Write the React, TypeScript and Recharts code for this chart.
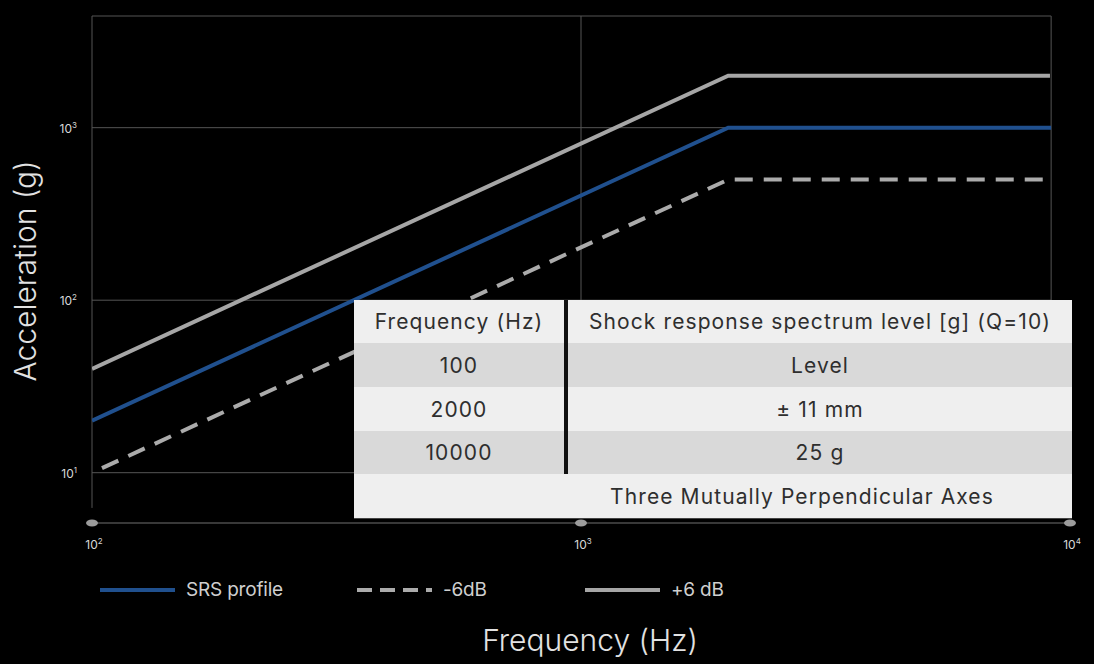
import React from 'react'
import { LineChart, Line, XAxis, YAxis, ReferenceLine, ReferenceDot, Legend } from 'recharts'

// axis setup (log-log)
const freqTicks = [100, 1000, 10000]
const accelTicks = [10, 100, 1000]
const freqDomain = [100, 10000]
const accelDomain = [5.11, 4440]
const frameRight = 9150
const frameBottom = 6.25

// SRS curves, frequency (Hz) vs acceleration (g)
const srsProfile = [
  { f: 100, g: 20 },
  { f: 2000, g: 1000 },
  { f: 9150, g: 1000 },
]
const minus6dB = [
  { f: 100, g: 10 },
  { f: 2000, g: 500 },
  { f: 9150, g: 500 },
]
const plus6dB = [
  { f: 100, g: 40 },
  { f: 2000, g: 2000 },
  { f: 9100, g: 2000 },
]

// table overlay
const tableHeader = ['Frequency (Hz)', 'Shock response spectrum level [g] (Q=10)']
const tableFreqs = ['100', '2000', '10000']
const tableLevels = ['Level', '± 11 mm', '25 g']
const tableFooter = 'Three Mutually Perpendicular Axes'

const series = [
  { key: 'srs', name: 'SRS profile', data: srsProfile, color: '#20508e', dash: undefined },
  { key: 'm6', name: '-6dB', data: minus6dB, color: '#ababab', dash: '18 11' },
  { key: 'p6', name: '+6 dB', data: plus6dB, color: '#a6a6a6', dash: undefined },
]

const FONT = 'Inter, "Noto Sans", sans-serif'
const GRID = '#555555'

function FreqTick(props: any) {
  const { x, y, payload } = props
  const e = Math.round(Math.log10(payload.value))
  return (
    <text x={x + 2} y={y + 26} textAnchor="middle" fill="#d8d8d8" fontSize={12} fontFamily={FONT}>
      10<tspan fontSize={8} dy={-5}>{e}</tspan>
    </text>
  )
}

function AccelTick(props: any) {
  const { x, y, payload } = props
  const e = Math.round(Math.log10(payload.value))
  return (
    <text x={x - 15} y={y + 5} textAnchor="end" fill="#d8d8d8" fontSize={12} fontFamily={FONT}>
      10<tspan fontSize={8} dy={-5}>{e}</tspan>
    </text>
  )
}

const legendLefts = [100, 357, 585]

function LegendContent() {
  return (
    <div style={{ position: 'relative', height: 24, fontFamily: FONT }}>
      {series.map((s, i) => (
        <div
          key={s.key}
          style={{ position: 'absolute', left: legendLefts[i], top: 0, display: 'flex', alignItems: 'center' }}
        >
          <svg width={75} height={8}>
            <line x1={0} y1={4} x2={75} y2={4} stroke={s.color} strokeWidth={4} strokeDasharray={s.dash ? '15 8' : undefined} />
          </svg>
          <span style={{ marginLeft: 11, color: '#cfcfcf', fontSize: 19, letterSpacing: -0.2 }}>{s.name}</span>
        </div>
      ))}
    </div>
  )
}

const rowBg = ['#efefef', '#d9d9d9', '#efefef', '#d9d9d9', '#efefef']
const rowH = [43, 44, 44, 43, 45]

function SpecTable() {
  const rows = [tableHeader, ...tableFreqs.map((f, i) => [f, tableLevels[i]])]
  return (
    <div
      style={{
        position: 'absolute',
        left: 354,
        top: 300,
        width: 718,
        fontFamily: FONT,
        color: '#2e2e2e',
        fontSize: 21,
        letterSpacing: 1.1,
      }}
    >
      {rows.map((r, i) => (
        <div key={i} style={{ display: 'flex', height: rowH[i], background: rowBg[i] }}>
          <div style={{ width: 210, display: 'flex', alignItems: 'center', justifyContent: 'center' }}>{r[0]}</div>
          <div style={{ width: 4, background: '#111' }} />
          <div style={{ flex: 1, display: 'flex', alignItems: 'center', justifyContent: 'center' }}>{r[1]}</div>
        </div>
      ))}
      <div
        style={{
          height: rowH[4],
          background: rowBg[4],
          display: 'flex',
          alignItems: 'center',
          justifyContent: 'center',
          paddingLeft: 178,
          borderBottom: '1px solid #444',
          boxSizing: 'border-box',
        }}
      >
        {tableFooter}
      </div>
    </div>
  )
}

export default function App() {
  return (
    <div style={{ position: 'absolute', left: 0, top: 0, width: 1094, height: 664, background: '#000', overflow: 'hidden' }}>
      <LineChart width={1094} height={664} margin={{ top: 16, right: 24, left: 0, bottom: 0 }}>
        <XAxis
          dataKey="f"
          type="number"
          scale="log"
          domain={freqDomain}
          ticks={freqTicks}
          allowDataOverflow
          height={141}
          axisLine={{ stroke: '#707070', strokeWidth: 1.2 }}
          tickLine={false}
          tickSize={0}
          tickMargin={0}
          tick={<FreqTick />}
        />
        <YAxis
          dataKey="g"
          type="number"
          scale="log"
          domain={accelDomain}
          ticks={accelTicks}
          allowDataOverflow
          width={92}
          axisLine={false}
          tickLine={false}
          tickSize={0}
          tickMargin={0}
          tick={<AccelTick />}
        />
        {/* plot frame */}
        <ReferenceLine segment={[{ x: 100, y: accelDomain[1] }, { x: frameRight, y: accelDomain[1] }]} stroke={GRID} />
        <ReferenceLine segment={[{ x: 100, y: frameBottom }, { x: 100, y: accelDomain[1] }]} stroke={GRID} />
        <ReferenceLine segment={[{ x: frameRight, y: frameBottom }, { x: frameRight, y: accelDomain[1] }]} stroke={GRID} />
        {accelTicks.map((v) => (
          <ReferenceLine key={v} segment={[{ x: 100, y: v }, { x: frameRight, y: v }]} stroke={GRID} />
        ))}
        <ReferenceLine segment={[{ x: 1000, y: frameBottom }, { x: 1000, y: accelDomain[1] }]} stroke={GRID} />
        {series.map((s) => (
          <Line
            key={s.key}
            data={s.data}
            dataKey="g"
            name={s.name}
            type="linear"
            stroke={s.color}
            strokeWidth={4}
            strokeDasharray={s.dash}
            strokeDashoffset={s.dash ? 18 : undefined}
            dot={false}
            activeDot={false}
            isAnimationActive={false}
          />
        ))}
        {freqTicks.map((f) => (
          <ReferenceDot
            key={f}
            x={f}
            y={accelDomain[0]}
            ifOverflow="visible"
            shape={(p: any) => <ellipse cx={p.cx} cy={p.cy} rx={6} ry={3.5} fill="#9c9c9c" />}
          />
        ))}
        <Legend
          verticalAlign="middle"
          layout="horizontal"
          content={<LegendContent />}
          wrapperStyle={{ top: 578, left: 0, width: 1094 }}
        />
      </LineChart>
      <SpecTable />
      <div
        style={{
          position: 'absolute',
          left: 390,
          width: 400,
          top: 622,
          textAlign: 'center',
          color: '#e2e2e2',
          fontFamily: FONT,
          fontSize: 30,
          fontWeight: 300,
        }}
      >
        Frequency (Hz)
      </div>
      <div
        style={{
          position: 'absolute',
          left: -125,
          top: 251,
          width: 300,
          height: 40,
          lineHeight: '40px',
          textAlign: 'center',
          transform: 'rotate(-90deg)',
          color: '#e2e2e2',
          fontFamily: FONT,
          fontSize: 30,
          fontWeight: 300,
        }}
      >
        Acceleration (g)
      </div>
    </div>
  )
}
